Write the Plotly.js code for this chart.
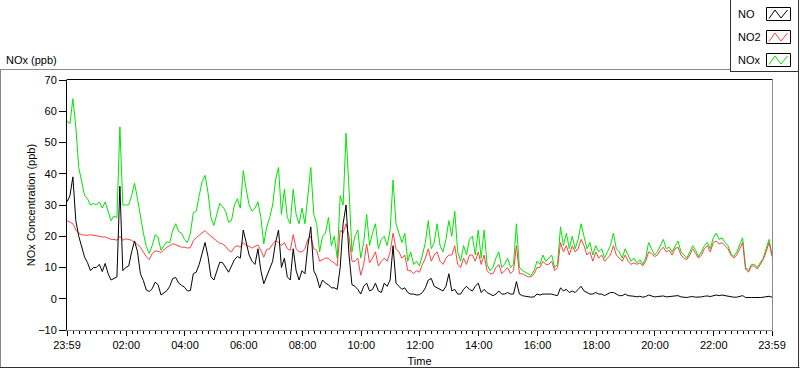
<!DOCTYPE html>
<html>
<head>
<meta charset="utf-8">
<script src="https://cdn.plot.ly/plotly-3.0.1.min.js"></script>
<style>
  html, body { margin: 0; padding: 0; background: #ffffff; }
  #chart { width: 800px; height: 369px; }
</style>
</head>
<body>
<div id="chart"></div>
<script>
// ---- data (sampled every 6 minutes from 23:59 to 23:59 next day) ----
const startTime = Date.UTC(2000, 0, 1, 23, 59);
const stepMinutes = 6;

const seriesNames = ['NO', 'NO2', 'NOx'];

const noValues = [
  31, 33, 39, 25, 20, 17, 13.3, 11.5, 9, 10, 10, 11, 8.7, 11.3, 8, 6, 6.4, 7, 36, 9,
  10, 10.5, 15, 18.5, 15, 8, 5.8, 2.8, 2.3, 3.2, 5.3, 4.5, 1.2, 1.8, 2.6, 4, 6.5, 6.8, 5, 4.3,
  3.7, 2.5, 2.6, 8, 8.5, 11, 15, 18, 13.5, 7, 6, 9, 11.7, 11.5, 10, 8.5, 10.5, 12.5, 13.5, 13,
  22, 18, 14, 12, 11, 16,
  9, 4.8, 7, 9.5, 12, 18, 22, 10, 13, 7, 6, 16, 9, 6, 9, 8, 17, 23, 9, 7,
  3.5, 6, 5, 4.5, 3.5, 3.5, 3, 10, 24, 30, 14, 4.5, 4, 3, 1.5, 4, 5, 2.5, 3, 5,
  2.5, 2, 5, 4, 6, 17, 5, 4, 3, 3.5, 2, 1.5, 1.5, 1.2, 1.3, 2, 3.5, 6, 6.5, 4,
  3.5, 3, 2.5, 4, 8,
  2.5, 3, 1.5, 1.5, 3, 4, 3, 2.5, 4, 5, 2, 3, 2, 1.5, 1, 1.5, 2.5, 1.5, 1.5, 2,
  1.5, 1.5, 5.5, 1.5, 1, 0.8, 0.6, 0.5, 0.6, 1.5, 1.2, 1.5, 1.5, 1.5, 1.5, 1.2, 1, 3.5, 2.5, 3,
  2, 2.5, 2, 3, 4, 2.5, 2, 1.5, 1.5, 2, 1.5, 1.5, 1, 1.5, 2, 2, 1.5, 1, 1, 1.5, 1,
  1, 0.8, 0.6, 0.8, 0.5, 0.7, 1.2, 0.8, 0.6, 0.7, 0.8, 0.9, 0.6, 0.7, 0.6, 0.8, 1, 0.6, 0.5, 0.4,
  0.6, 0.7, 0.5, 0.5, 0.6, 0.8, 0.9, 0.7, 1, 1.2, 1, 1.2, 1, 0.8, 0.6, 0.5, 0.5, 0.8, 1, 0.4,
  0.3, 0.4, 0.4, 0.3, 0.4, 0.5, 0.6, 0.8, 0.5
];

const no2Values = [
  25, 24.5, 24, 22, 21, 20.5, 20.3, 20.3, 20.5, 20.3, 20.3, 20, 19.8, 19.8, 19.5, 19, 19, 18.7, 20, 18.7,
  19.2, 19, 18.7, 18, 17.4, 16.5, 15, 13.5, 12.5, 14.5, 15.3, 15.2, 14.8, 15.8, 16.5, 17, 17.6, 17.3, 17, 16.5,
  16.5, 16.2, 16.4, 18.5, 19.6, 20.3, 21, 21.8, 20.8, 20, 19, 18.5, 17.8, 17.5, 16.8, 15.5, 15, 16.5, 17, 16.5,
  18, 17, 16.8, 16.2, 16.8, 17.2,
  15.5, 13.3, 15.8, 16, 17.5, 18.5, 18, 17, 18, 16, 15.5, 20.5, 16, 15, 15, 16, 19, 20, 16, 15.5,
  12, 12.5, 13, 13, 12, 11.5, 10.5, 22, 21, 24, 20, 12, 12, 13, 7.5, 11, 17.5, 11.5, 13, 15,
  10.5, 12, 13, 12, 15, 21, 16, 15, 13, 14, 9, 9, 8, 9, 8.5, 11, 13, 16, 12, 14,
  15, 12, 11, 13, 14,
  14, 17, 11, 10, 13, 11, 14, 14, 12, 15, 11, 14, 9, 8, 8, 10, 11, 8, 9, 10,
  8, 9, 17, 8, 8, 7.5, 7, 7, 8, 10, 10, 12, 11, 11, 12, 9, 10, 18, 15, 17,
  14, 17, 15, 16, 19, 17, 14, 15, 12, 15, 13, 14, 12, 13, 14, 17, 14, 13, 12, 14, 12,
  11, 11.5, 11, 11.5, 10.5, 12, 15, 14.5, 13.5, 14, 15.5, 16.5, 15, 15.5, 14, 16, 16.5, 14, 13, 12.5,
  14, 16, 14.5, 13, 14, 16, 17, 15, 18, 18.5, 17.5, 18, 17, 16, 14, 13, 14, 16, 18, 9.5,
  8.5, 10.5, 10.5, 9.5, 11, 12.5, 15, 18, 13.5
];

const noxValues = [
  57, 56, 64, 55, 42, 38, 33, 32, 30, 30.5, 30, 31, 29, 31, 27.7, 25, 26.5, 26, 55, 30,
  30, 30, 33, 37, 32, 26, 21, 16.7, 14.5, 17, 20.5, 19.7, 15.5, 17, 18.2, 18, 22, 24, 21.5, 21,
  19, 18, 21, 27.5, 28, 33, 37.5, 39.5, 34, 26, 23.5, 27, 30.5, 29.5, 28, 24.5, 25, 30, 32, 29,
  41, 35, 30, 28, 29, 31,
  26, 17.6, 23, 26, 30, 38, 42, 27, 35, 26, 24, 35, 27, 24, 29, 24, 34, 42, 27, 24,
  15, 20, 21, 26, 17, 20, 13, 33, 30, 53, 35, 15, 20, 22, 13, 18, 27, 17, 21, 24,
  16, 19, 20, 17, 22, 38, 24, 21, 18, 21, 12, 15, 11, 12, 10.5, 14, 18, 25, 16, 18,
  24, 17, 15, 19, 25,
  20, 28, 15, 12, 17, 14, 19, 20, 14, 22, 13, 22, 11, 9, 10, 13, 15, 10, 11, 13,
  10, 11, 24, 10, 9, 8.5, 8, 7.5, 9, 12, 11, 14, 12, 13, 14, 10, 11, 23, 17, 21,
  16, 20, 16, 19, 24, 20, 16, 18, 14, 17, 15, 16, 13, 15, 17, 21, 16, 15, 13, 16, 14,
  12, 13, 11.5, 12.5, 11, 13, 18, 16, 14, 15, 17, 19, 16, 16.5, 15, 17, 18.5, 15, 14, 13,
  15, 17, 15.5, 13.5, 15, 17, 18, 16, 19.5, 21, 19, 19.5, 18, 17, 14.5, 13.5, 15, 17, 19.5, 10,
  9, 11, 11, 10, 11.5, 13, 16, 19, 14
];

const xTickLabels = ['23:59', '02:00', '04:00', '06:00', '08:00', '10:00', '12:00',
                     '14:00', '16:00', '18:00', '20:00', '22:00', '23:59'];
const xTickTimes = ['2000-01-01 23:59', '2000-01-02 02:00', '2000-01-02 04:00', '2000-01-02 06:00',
                    '2000-01-02 08:00', '2000-01-02 10:00', '2000-01-02 12:00', '2000-01-02 14:00',
                    '2000-01-02 16:00', '2000-01-02 18:00', '2000-01-02 20:00', '2000-01-02 22:00',
                    '2000-01-02 23:59'];

// ---- build time axis values ----
function fmt(ms) {
  return new Date(ms).toISOString().replace('T', ' ').slice(0, 19);
}
const times = noValues.map((_, i) => fmt(startTime + i * stepMinutes * 60000));

// ---- pixel helpers for decorations (plot area 67..772 x 80..330) ----
const PL = 67, PT = 80, PW = 705, PH = 250;
const px = X => (X - PL) / PW;
const py = Y => (PT + PH - Y) / PH;

const FONT = 'Liberation Sans, Arial, sans-serif';
const colors = { NO: '#000000', NO2: '#ff4040', NOx: '#00e600' };

const traces = [
  { name: 'NOx', x: times, y: noxValues, type: 'scatter', mode: 'lines',
    line: { color: colors.NOx, width: 1 } },
  { name: 'NO2', x: times, y: no2Values, type: 'scatter', mode: 'lines',
    line: { color: colors.NO2, width: 1 } },
  { name: 'NO', x: times, y: noValues, type: 'scatter', mode: 'lines',
    line: { color: colors.NO, width: 1 } }
];

function seg(x0, y0, x1, y1, color) {
  return { type: 'line', xref: 'paper', yref: 'paper', x0: px(x0), y0: py(y0), x1: px(x1), y1: py(y1),
           line: { color: color, width: 1 }, layer: 'above' };
}

const shapes = [
  // plot frame top / right
  seg(66.5, 79.5, 772.5, 79.5, '#000000'),
  seg(772.5, 79.5, 772.5, 330.5, '#8a8a8a'),
  // outer frame
  seg(0, 69.5, 730.5, 69.5, '#8a8a8a'),
  seg(0.5, 69.5, 0.5, 368, '#8a8a8a'),
  seg(0, 367.5, 799.5, 367.5, '#333333'),
  seg(798.5, 0, 798.5, 368, '#333333'),
  // legend box
  seg(730.5, 0, 730.5, 72, '#333333'),
  seg(730.5, 71.5, 799, 71.5, '#333333')
];

const annotations = [
  { xref: 'paper', yref: 'paper', x: px(4), y: py(60), xanchor: 'left', yanchor: 'middle',
    text: 'NOx (ppb)', showarrow: false, font: { family: FONT, size: 11, color: '#000' } }
];

const legendRows = [14, 37, 60];
seriesNames.forEach((nm, i) => {
  const cy = legendRows[i];
  annotations.push({ xref: 'paper', yref: 'paper', x: px(736), y: py(cy), xanchor: 'left', yanchor: 'middle',
    text: nm, showarrow: false, font: { family: FONT, size: 11, color: '#000' } });
  shapes.push({ type: 'rect', xref: 'paper', yref: 'paper',
    x0: px(766.5), x1: px(790.5), y0: py(cy - 6.5), y1: py(cy + 6.5),
    line: { color: '#000000', width: 1 }, fillcolor: '#ffffff', layer: 'above' });
  const pts = [[769, cy + 4.5], [775, cy - 4], [781, cy + 4], [787.5, cy - 4]];
  const path = 'M ' + pts.map(p => px(p[0]) + ',' + py(p[1])).join(' L ');
  shapes.push({ type: 'path', xref: 'paper', yref: 'paper', path: path,
    line: { color: colors[nm], width: 1 }, layer: 'above' });
});

const layout = {
  width: 800, height: 369,
  margin: { l: 67, r: 28, t: 80, b: 39, pad: 0 },
  paper_bgcolor: '#ffffff', plot_bgcolor: '#ffffff',
  showlegend: false,
  hovermode: false,
  font: { family: FONT, size: 11, color: '#000' },
  xaxis: {
    type: 'date',
    range: [xTickTimes[0], xTickTimes[xTickTimes.length - 1]],
    tickmode: 'array', tickvals: xTickTimes, ticktext: xTickLabels,
    ticks: 'outside', ticklen: 5, tickcolor: '#000', tickwidth: 1,
    minor: { tickmode: 'linear', tick0: '2000-01-02 00:00', dtick: 720000,
             ticks: 'outside', ticklen: 3, tickcolor: '#000', tickwidth: 1 },
    showline: true, linecolor: '#8a8a8a', linewidth: 1,
    showgrid: false, zeroline: false,
    tickfont: { family: FONT, size: 11, color: '#000' },
    title: { text: 'Time', font: { family: FONT, size: 11, color: '#000' }, standoff: 7 },
    automargin: false
  },
  yaxis: {
    range: [-10, 70], tickmode: 'linear', tick0: 0, dtick: 10,
    ticks: 'outside', ticklen: 7, tickcolor: '#000', tickwidth: 1,
    showline: true, linecolor: '#000', linewidth: 1,
    showgrid: false, zeroline: false,
    tickfont: { family: FONT, size: 11, color: '#000' },
    title: { text: 'NOx Concentration (ppb)', font: { family: FONT, size: 11, color: '#000' }, standoff: 0 },
    automargin: false
  },
  shapes: shapes,
  annotations: annotations
};

Plotly.newPlot('chart', traces, layout, { displayModeBar: false, staticPlot: true });
</script>
</body>
</html>
